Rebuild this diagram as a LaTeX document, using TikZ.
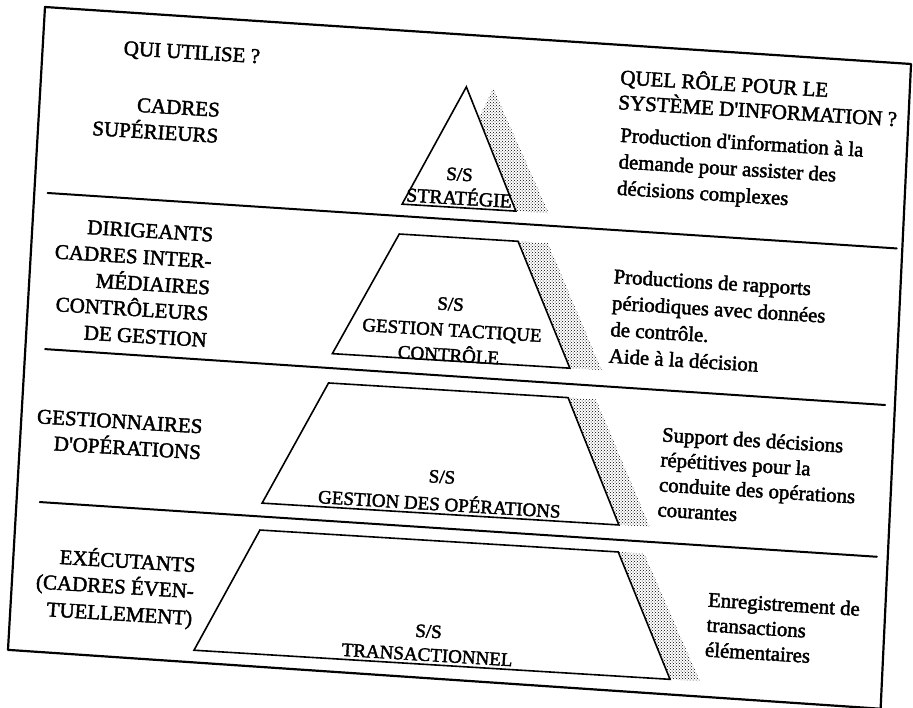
\documentclass[tikz,border=0pt]{standalone}
\usepackage{fontspec}
\setmainfont{Liberation Serif}
\newfontfamily\scanfont{Liberation Serif}[FakeBold=2]
\usetikzlibrary{patterns}
\begin{document}
\begin{tikzpicture}[x=1pt,y=-1pt,
  frameline/.style={line width=2.2pt, line join=round},
  divline/.style={line width=2pt, line cap=round},
  tier/.style={draw, fill=white, line width=1.6pt, line join=miter},
  shade/.style={pattern=crosshatch dots, pattern color=black},
  txt/.style={inner sep=0pt, font=\scanfont\fontsize{20.8}{24}\selectfont},
  lbl/.style={inner sep=0pt, font=\scanfont\fontsize{19}{22}\selectfont, anchor=base},
  head/.style={inner sep=0pt, font=\scanfont\fontsize{21}{24}\selectfont}]
\clip (0,0) rectangle (913,707);
\begin{scope}[shift={(45,7)}, rotate=-3.5, transform shape]
  % frame
  \coordinate (fTL) at (0,0);
  \coordinate (fTR) at (868,4);
  \coordinate (fBR) at (877,649.5);
  \coordinate (fBL) at (2.3,644);
  \draw[frameline] (fTL) -- (fTR) -- (fBR) -- (fBL) -- cycle;
  % dividers
  \coordinate (d1a) at (14,185.5);  \coordinate (d1b) at (865,189);
  \coordinate (d2a) at (21,341.5);  \coordinate (d2b) at (863,346);
  \coordinate (d3a) at (25,494.5);  \coordinate (d3b) at (864,498);
  \draw[divline] (d1a) -- (d1b);
  \draw[divline] (d2a) -- (d2b);
  \draw[divline] (d3a) -- (d3b);
  % tier 1 (triangle)
  \coordinate (t1a) at (425.5,54);
  \coordinate (t1l) at (368.5,175);
  \coordinate (t1r) at (482.5,175);
  \fill[shade] ([xshift=27pt]t1a) -- ([xshift=33pt]t1r) -- ([xshift=33pt]t1l) -- cycle;
  \draw[tier] (t1a) -- (t1r) -- (t1l) -- cycle;
  % tier 2
  \coordinate (t2tl) at (367.5,205); \coordinate (t2tr) at (486.5,205);
  \coordinate (t2bl) at (308,328.5); \coordinate (t2br) at (546,328.5);
  \fill[shade] ([xshift=30pt]t2tl) -- ([xshift=30pt]t2tr) -- ([xshift=32pt]t2br) -- ([xshift=32pt]t2bl) -- cycle;
  \draw[tier] (t2tl) -- (t2tr) -- (t2br) -- (t2bl) -- cycle;
  % tier 3
  \coordinate (t3tl) at (306,358); \coordinate (t3tr) at (546,358);
  \coordinate (t3bl) at (247,482); \coordinate (t3br) at (604.5,482);
  \fill[shade] ([xshift=28pt]t3tl) -- ([xshift=28pt]t3tr) -- ([xshift=31pt]t3br) -- ([xshift=31pt]t3bl) -- cycle;
  \draw[tier] (t3tl) -- (t3tr) -- (t3br) -- (t3bl) -- cycle;
  % tier 4
  \coordinate (t4tl) at (246.5,509); \coordinate (t4tr) at (605.5,509);
  \coordinate (t4bl) at (188,633); \coordinate (t4br) at (665,633);
  \fill[shade] ([xshift=26pt]t4tl) -- ([xshift=26pt]t4tr) -- ([xshift=30pt]t4br) -- ([xshift=30pt]t4bl) -- cycle;
  \draw[tier] (t4tl) -- (t4tr) -- (t4br) -- (t4bl) -- cycle;

  % tier labels
  \node[lbl] (s1a) at (424,148) {S/S};
  \node[lbl, font=\scanfont\fontsize{19.8}{22}\selectfont] (s1b) at (425,172) {STRATÉGIE};
  \node[lbl] (s2a) at (423,278) {S/S};
  \node[lbl] (s2b) at (426,304) {GESTION TACTIQUE};
  \node[lbl] (s2c) at (424,329) {CONTRÔLE};
  \node[lbl] (s3a) at (425,451) {S/S};
  \node[lbl] (s3b) at (424,478.5) {GESTION DES OPÉRATIONS};
  \node[lbl] (s4a) at (421,606) {S/S};
  \node[lbl] (s4b) at (421,629.5) {TRANSACTIONNEL};

  % left column
  \node[head, anchor=base west] (qui) at (81,43) {QUI UTILISE ?};
  \node[head, anchor=base east] (l1a) at (181,99) {CADRES};
  \node[head, anchor=base east] (l1b) at (181,125) {SUPÉRIEURS};
  \node[head, anchor=base east] (l2a) at (182,224) {DIRIGEANTS};
  \node[head, anchor=base east] (l2b) at (182,250.5) {CADRES INTER-};
  \node[head, anchor=base east] (l2c) at (182,277) {MÉDIAIRES};
  \node[head, anchor=base east] (l2d) at (182,303) {CONTRÔLEURS};
  \node[head, anchor=base east] (l2e) at (182,329.5) {DE GESTION};
  \node[head, anchor=base east] (l3a) at (183,416) {GESTIONNAIRES};
  \node[head, anchor=base east] (l3b) at (183,442) {D\textquotesingle OPÉRATIONS};
  \node[head, anchor=base east] (l4a) at (184.5,555) {EXÉCUTANTS};
  \node[head, anchor=base east] (l4b) at (184.5,581) {(CADRES ÉVEN-};
  \node[head, anchor=base east] (l4c) at (184.5,608) {TUELLEMENT)};

  % right column
  \node[head, anchor=base west] (q1) at (578.5,42) {QUEL RÔLE POUR LE};
  \node[head, anchor=base west] (q2) at (578,67) {SYSTÈME D\textquotesingle INFORMATION ?};
  \node[txt, anchor=base west] (r1a) at (582,99.5) {Production d\textquotesingle information à la};
  \node[txt, anchor=base west] (r1b) at (582,126) {demande pour assister des};
  \node[txt, anchor=base west] (r1c) at (582,152.5) {décisions complexes};
  \node[txt, anchor=base west] (r2a) at (584,241) {Productions de rapports};
  \node[txt, anchor=base west] (r2b) at (584,267.5) {périodiques avec données};
  \node[txt, anchor=base west] (r2c) at (584,294) {de contrôle.};
  \node[txt, anchor=base west] (r2d) at (584,320.5) {Aide à la décision};
  \node[txt, anchor=base west] (r3a) at (642,396) {Support des décisions};
  \node[txt, anchor=base west] (r3b) at (642,421) {répétitives pour la};
  \node[txt, anchor=base west] (r3c) at (642,446) {conduite des opérations};
  \node[txt, anchor=base west] (r3d) at (642,471) {courantes};
  \node[txt, anchor=base west] (r4a) at (698,558) {Enregistrement de};
  \node[txt, anchor=base west] (r4b) at (698,583) {transactions};
  \node[txt, anchor=base west] (r4c) at (698,608) {élémentaires};
\end{scope}
\end{tikzpicture}
\end{document}
